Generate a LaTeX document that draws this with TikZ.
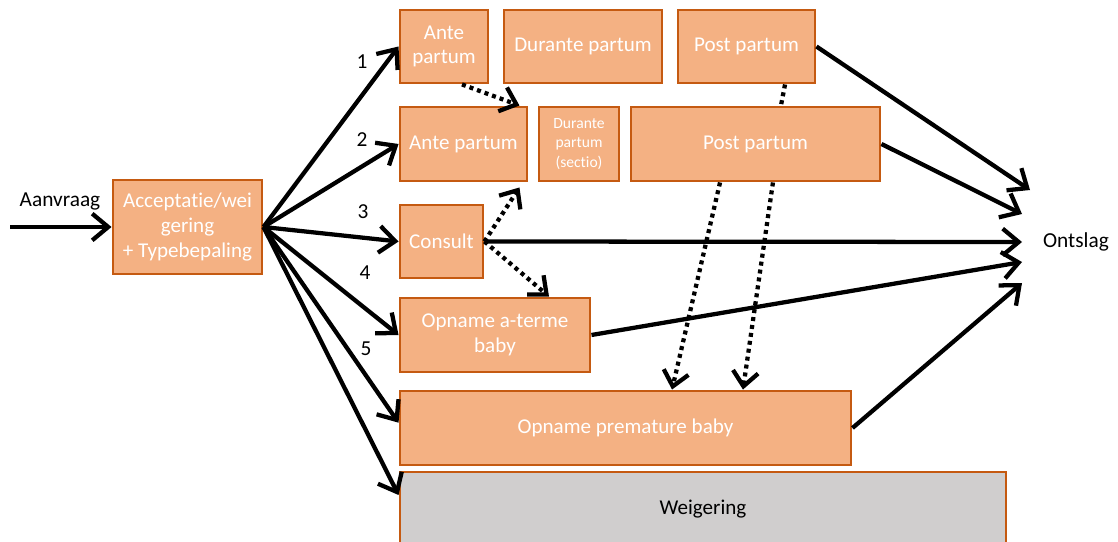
\documentclass[tikz,border=0pt]{standalone}
\usepackage{fontspec}
\setmainfont{Carlito}[Ligatures=NoCommon]
\usetikzlibrary{arrows.meta,calc}
\definecolor{boxfill}{HTML}{F4B183}
\definecolor{boxline}{HTML}{C55A11}
\definecolor{greyfill}{HTML}{D0CECE}
\tikzset{
  pbox/.style={draw=boxline, fill=boxfill, line width=2.2pt, inner sep=0pt, align=center,
    text=white, font=\fontsize{15.8pt}{18.5pt}\selectfont},
  smallbox/.style={pbox, font=\fontsize{11.7pt}{14.5pt}\selectfont},
  gbox/.style={pbox, fill=greyfill, text=black},
  plain/.style={font=\fontsize{16pt}{18.5pt}\selectfont, text=black, inner sep=0pt},
  flow/.style={line width=3.2pt, -{Straight Barb[length=12pt,width=20pt,line width=3.2pt]}},
  dotflow/.style={line width=3.2pt, dash pattern=on 3pt off 3pt, -{Straight Barb[length=11pt,width=19pt,line width=3.2pt]}},
  dotline/.style={line width=3.2pt, dash pattern=on 3pt off 3pt},
}
\begin{document}
\begin{tikzpicture}[x=0.75pt,y=-0.75pt]
\useasboundingbox (0,0) rectangle (1118,542);
% boxes
\node[pbox, minimum width=111.75pt, minimum height=70.5pt] (acc) at (187.5,227) {Acceptatie/wei\\gering\\+ Typebepaling};
\node[pbox, minimum width=66pt, minimum height=54.75pt] (ap1) at (444,46.5) {Ante\\partum};
\node[pbox, minimum width=118.5pt, minimum height=54.75pt] (dp1) at (583,46.5) {Durante partum};
\node[pbox, minimum width=102.75pt, minimum height=54.75pt] (pp1) at (746.5,46.5) {Post partum};
\node[pbox, minimum width=95.25pt, minimum height=55.5pt] (ap2) at (463.5,144) {Ante partum};
\node[smallbox, minimum width=60pt, minimum height=55.5pt] (dp2) at (579,144) {Durante\\partum\\(sectio)};
\node[pbox, minimum width=186.75pt, minimum height=55.5pt] (pp2) at (755.5,144) {Post partum};
\node[pbox, minimum width=62.25pt, minimum height=54.75pt] (cons) at (441.5,241.5) {Consult};
\node[pbox, minimum width=142.5pt, minimum height=55.5pt] (oat) at (495,335) {Opname a-terme\\baby};
\node[pbox, minimum width=338.25pt, minimum height=55.5pt] (opb) at (625.5,428) {Opname premature baby};
\node[gbox, minimum width=454.5pt, minimum height=55.5pt] (weig) at (703,509) {Weigering};
% texts
\node[plain] (aanv) at (60,201) {Aanvraag};
\node[plain] (ont) at (1076,242) {Ontslag};
\node[plain] (n1) at (362,62) {1};
\node[plain] (n2) at (362,140) {2};
\node[plain] (n3) at (363,212) {3};
\node[plain] (n4) at (365,273) {4};
\node[plain] (n5) at (366,349) {5};
\coordinate (start) at (10,227);
\coordinate (t1) at (1030,190);
\coordinate (t2) at (1022,214);
\coordinate (t3) at (1022,242);
\coordinate (t4) at (1022,262);
\coordinate (t5) at (1022,283);
% input
\draw[flow] (start) -- (acc.west);
% fan out
\draw[flow] (acc.east) -- (ap1.west);
\draw[flow] (acc.east) -- (ap2.west);
\draw[flow] (acc.east) -- (cons.west);
\draw[flow] (acc.east) -- (oat.west);
\draw[flow] (acc.east) -- ([yshift=4pt]opb.west);
\draw[flow] (acc.east) -- ([yshift=10.5pt]weig.west);
% to Ontslag
\draw[flow] (pp1.east) -- (t1);
\draw[flow] (pp2.east) -- (t2);
\draw[flow] (cons.east) -- (t3);
\draw[flow] (oat.east) -- (t4);
\draw[flow] (opb.east) -- (t5);
% dotted
\draw[dotflow] ([xshift=13.5pt]ap1.south) -- ([xshift=-6.75pt]ap2.north east);
\draw[dotflow] (cons.east) -- ([xshift=-6.75pt,yshift=-3.75pt]ap2.south east);
\draw[dotflow] (cons.east) -- ([xshift=40.5pt]oat.north);
\draw[dotflow] ([xshift=-26.6pt]pp2.south) -- ([xshift=34.9pt]opb.north);
\draw[dotflow] ([xshift=13.1pt]pp2.south) -- ([xshift=88.1pt]opb.north);
\draw[dotline] ([xshift=28.9pt]pp1.south) -- ([xshift=19.1pt]pp2.north);
\end{tikzpicture}
\end{document}
